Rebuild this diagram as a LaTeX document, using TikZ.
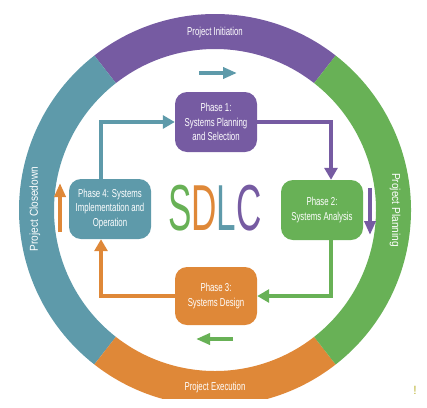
\documentclass[tikz,border=0pt]{standalone}
\usepackage{fontspec}
\usepackage{xcolor}
\usepackage{tikz}
\usetikzlibrary{arrows.meta,calc}

\setmainfont{Liberation Sans}
\newfontfamily\phasefont{Liberation Sans}[FakeStretch=0.68]
\newfontfamily\sidefont{Liberation Sans}[FakeStretch=0.88]
\newfontfamily\bigfont{Liberation Sans}[FakeStretch=0.54]

\definecolor{sdlcpurple}{RGB}{118,91,162}
\definecolor{sdlcgreen}{RGB}{104,177,86}
\definecolor{sdlcorange}{RGB}{223,136,56}
\definecolor{sdlcteal}{RGB}{94,154,170}

\tikzset{
  phasebox/.style={rounded corners=12pt, minimum width=82pt, minimum height=60pt,
    text=white, align=center, inner sep=0pt,
    font=\phasefont\fontsize{11.5}{14.5}\selectfont},
  flow/.style={line width=3.5pt, -{Triangle[length=12pt,width=13pt]}},
  hint/.style={line width=3.5pt, -{Triangle[length=14pt,width=11pt]}},
  ringlabel/.style={text=white, inner sep=0pt, font=\phasefont\fontsize{11.5}{12}\selectfont},
  sidelabel/.style={text=white, inner sep=0pt, font=\sidefont\fontsize{11.5}{12}\selectfont}
}

\begin{document}
\begin{tikzpicture}[x=1pt, y=-1pt]
    \useasboundingbox (0,0) rectangle (427,407);

    % Ring (angles are flipped because y runs down)
    \coordinate (c) at (215,210);
    \begin{scope}
      \clip (0,0) rectangle (427,398);
      \fill[sdlcpurple] ($(c)+(-52:196)$) arc[start angle=-52, end angle=-128, radius=196]
        -- ($(c)+(-128:161)$) arc[start angle=-128, end angle=-52, radius=161] -- cycle;
      \fill[sdlcteal] ($(c)+(-128:196)$) arc[start angle=-128, end angle=-232, radius=196]
        -- ($(c)+(-232:161)$) arc[start angle=-232, end angle=-128, radius=161] -- cycle;
      \fill[sdlcorange] ($(c)+(-232:196)$) arc[start angle=-232, end angle=-308, radius=196]
        -- ($(c)+(-308:161)$) arc[start angle=-308, end angle=-232, radius=161] -- cycle;
      \fill[sdlcgreen] ($(c)+(52:196)$) arc[start angle=52, end angle=-52, radius=196]
        -- ($(c)+(-52:161)$) arc[start angle=-52, end angle=52, radius=161] -- cycle;
    \end{scope}

    % Ring labels
    \node[ringlabel] (init) at (215,33) {Project Initiation};
    \node[ringlabel] (exec) at (215,388) {Project Execution};
    \node[sidelabel, rotate=90] (close) at (35,209) {Project Closedown};
    \node[sidelabel, rotate=-90] (plan) at (395,210) {Project Planning};

    % Phases
    \node[phasebox, fill=sdlcpurple] (p1) at (216,122) {Phase 1:\\Systems Planning\\and Selection};
    \node[phasebox, fill=sdlcgreen] (p2) at (322,210) {Phase 2:\\Systems Analysis};
    \node[phasebox, fill=sdlcorange, minimum height=58pt] (p3) at (216,296) {Phase 3:\\Systems Design};
    \node[phasebox, fill=sdlcteal] (p4) at (110,209) {Phase 4: Systems\\Implementation and\\Operation};

    % Title
    \node[anchor=base, inner sep=0pt, font=\bigfont\fontsize{65}{65}\selectfont] (sdlc) at (215,230)
      {{\color{sdlcgreen}S}{\color{sdlcorange}D}{\color{sdlcteal}L}{\color{sdlcpurple}C}};

    % Connectors
    \draw[flow, sdlcteal] ([xshift=-9pt]p4.north) |- (p1.west);
    \draw[flow, sdlcpurple] (p1.east) -| ([xshift=9pt]p2.north);
    \draw[flow, sdlcgreen] ([xshift=9pt]p2.south) |- (p3.east);
    \draw[flow, sdlcorange] (p3.west) -| ([xshift=-9pt]p4.south);

    % Direction hints
    \coordinate (h1a) at (199,73);  \coordinate (h1b) at (237,73);
    \coordinate (h2a) at (370,188); \coordinate (h2b) at (370,235);
    \coordinate (h3a) at (233,339); \coordinate (h3b) at (196,339);
    \coordinate (h4a) at (60,232);  \coordinate (h4b) at (60,183);
    \draw[hint, sdlcteal] (h1a) -- (h1b);
    \draw[hint, sdlcpurple] (h2a) -- (h2b);
    \draw[hint, sdlcgreen] (h3a) -- (h3b);
    \draw[hint, sdlcorange] (h4a) -- (h4b);

    % Stray mark
    \node[text=yellow!70!black, inner sep=0pt, font=\fontsize{12}{12}\selectfont] (bang) at (415,390) {!};
\end{tikzpicture}
\end{document}
